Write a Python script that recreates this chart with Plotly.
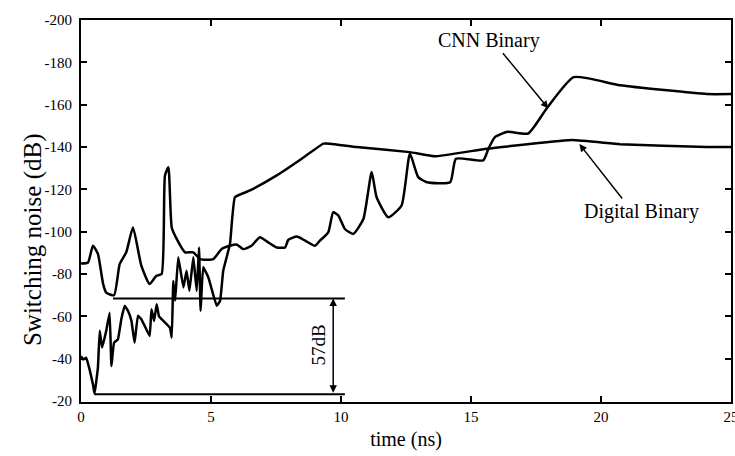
import plotly.graph_objects as go

# ---- data (time in ns, switching noise in dB) ----
cnn_time = [0, 0.27, 0.46, 0.65, 0.85, 0.97, 1.27, 1.49, 1.74, 2.0, 2.32, 2.64, 2.9, 3.1, 3.23,
            3.36, 3.49, 3.68, 4.0, 4.32, 4.58, 5.09, 5.41, 5.73, 6.0, 6.24, 6.56, 6.88, 7.2, 7.53,
            7.85, 7.97, 8.3, 8.62, 9.0, 9.19, 9.51, 9.7, 9.9, 10.15, 10.47, 10.86, 11.18, 11.37,
            11.82, 12.33, 12.65, 12.97, 13.3, 14.2, 14.42, 15.47, 15.67, 15.92, 16.4, 17.2, 17.91,
            18.95, 20.73, 24.07, 25]
cnn_noise = [-85, -85.5, -93.4, -89.6, -75.4, -71.3, -70, -84.8, -90.3, -102, -84, -75.3, -79.2,
             -80, -126.6, -130.5, -102, -96.6, -90.3, -90.3, -87.1, -87.1, -91.9, -93.4, -93.9,
             -91.8, -93.4, -97.4, -95, -92.6, -92.6, -96.1, -97.7, -95.8, -93.4, -95.8, -99.7,
             -109.2, -107.6, -101.3, -99, -106, -128.2, -116.3, -106.8, -112.4, -136.9, -125.8,
             -123.4, -123.4, -134.5, -133.7, -139.2, -144.7, -147.2, -146.4, -158.2, -173, -169.2,
             -165, -165]

dig_time = [0, 0.08, 0.2, 0.33, 0.46, 0.52, 0.65, 0.72, 0.81, 0.91, 0.97, 1.1, 1.17, 1.27, 1.42,
            1.55, 1.68, 1.81, 1.94, 2.06, 2.19, 2.32, 2.45, 2.64, 2.71, 2.81, 2.91, 3.0, 3.17,
            3.42, 3.49, 3.55, 3.62, 3.74, 3.94, 4.06, 4.17, 4.32, 4.45, 4.54, 4.6, 4.7, 4.9, 5.22,
            5.35, 5.47, 5.73, 5.92, 6.5, 7.53, 8.49, 9.32, 9.58, 10.6, 12.65, 13.6, 15.6, 18.9,
            20.73, 24.07, 25]
dig_noise = [-41.3, -39.7, -40.5, -35, -27.9, -23.5, -35.8, -53.2, -45.3, -50, -53.2, -61.8,
             -36.6, -47.6, -49.2, -58.7, -65, -62.6, -57.9, -47.6, -60.3, -58.7, -55.5, -50.8,
             -63.4, -57.9, -65.8, -60, -57.9, -54.7, -50, -76.8, -67.4, -88, -73.7, -81.6, -72.1,
             -88, -72.1, -92.6, -62.6, -83.2, -78.4, -65, -67.4, -81.6, -94.2, -116.3, -119.5,
             -126.6, -134.5, -141.6, -141.6, -140, -137.6, -135.6, -139.2, -143.3, -141.3, -140,
             -140]

# 57 dB marker: two reference levels and the span they cover
level_top = -68.5
level_bottom = -23.3
level_top_x = [1.23, 10.15]
level_bottom_x = [0.52, 10.15]
span_x = 9.7

x_ticks = [0, 5, 10, 15, 20, 25]
y_ticks = [-200, -180, -160, -140, -120, -100, -80, -60, -40, -20]

FONT = "Liberation Serif"
LINE = dict(color="black", width=2.5, shape="spline", smoothing=0.5)

fig = go.Figure()
fig.add_trace(go.Scatter(x=cnn_time, y=cnn_noise, mode="lines", line=LINE, name="CNN Binary"))
fig.add_trace(go.Scatter(x=dig_time, y=dig_noise, mode="lines",
                         line=dict(color="black", width=2.5, shape="spline", smoothing=0.3),
                         name="Digital Binary"))
fig.add_trace(go.Scatter(x=level_top_x, y=[level_top, level_top], mode="lines",
                         line=dict(color="black", width=2), showlegend=False))
fig.add_trace(go.Scatter(x=level_bottom_x, y=[level_bottom, level_bottom], mode="lines",
                         line=dict(color="black", width=2), showlegend=False))

ann = []
# double arrow for 57dB
ann.append(dict(x=span_x, y=level_top, ax=span_x, ay=level_bottom, xref="x", yref="y",
                axref="x", ayref="y", text="", showarrow=True, arrowhead=2, startarrowhead=2,
                arrowside="end+start", arrowwidth=1.5, arrowsize=1, arrowcolor="black"))
ann.append(dict(x=9.13, y=-46.5, xref="x", yref="y", text="57dB", showarrow=False,
                textangle=-90, font=dict(family=FONT, size=19, color="black")))
# CNN Binary label + arrow
ann.append(dict(x=17.97, y=-158.3, ax=16.18, ay=-185, xref="x", yref="y", axref="x", ayref="y",
                text="", showarrow=True, arrowhead=2, arrowwidth=1.5, arrowsize=1,
                arrowcolor="black"))
ann.append(dict(x=15.69, y=-190.5, xref="x", yref="y", text="CNN Binary", showarrow=False,
                font=dict(family=FONT, size=20, color="black")))
# Digital Binary label + arrow
ann.append(dict(x=19.17, y=-141.4, ax=20.86, ay=-115, xref="x", yref="y", axref="x", ayref="y",
                text="", showarrow=True, arrowhead=2, arrowwidth=1.5, arrowsize=1,
                arrowcolor="black"))
ann.append(dict(x=21.54, y=-109.7, xref="x", yref="y", text="Digital Binary", showarrow=False,
                font=dict(family=FONT, size=20, color="black")))
# y-axis title (placed like the reference, slightly below the plot centre)
ann.append(dict(x=0, y=0.424, xref="paper", yref="paper", xanchor="center", yanchor="middle",
                xshift=-48, text="Switching noise (dB)", showarrow=False, textangle=-90,
                font=dict(family=FONT, size=25, color="black")))

fig.update_layout(
    width=735, height=456,
    margin=dict(l=81, r=4, t=20, b=54),
    paper_bgcolor="white", plot_bgcolor="white",
    showlegend=False,
    font=dict(family=FONT, color="black"),
    annotations=ann,
)
fig.update_xaxes(range=[0, 25], tickvals=x_ticks, ticktext=[str(v) for v in x_ticks],
                 ticklabeloverflow="allow", automargin=False,
                 showgrid=False, zeroline=False, showline=True, linecolor="black", linewidth=2,
                 mirror="ticks", ticks="inside", ticklen=6, tickwidth=1.5, tickcolor="black",
                 tickfont=dict(family=FONT, size=15, color="black"),
                 title=dict(text="time (ns)", font=dict(family=FONT, size=20, color="black"),
                            standoff=8))
fig.update_yaxes(range=[-19.6, -200], tickvals=y_ticks, ticktext=[str(v) for v in y_ticks],
                 automargin=False,
                 showgrid=False, zeroline=False, showline=True, linecolor="black", linewidth=2,
                 mirror="ticks", ticks="inside", ticklen=6, tickwidth=1.5, tickcolor="black",
                 tickfont=dict(family=FONT, size=15, color="black"), ticklabelstandoff=4)

fig.write_html("out.html")
